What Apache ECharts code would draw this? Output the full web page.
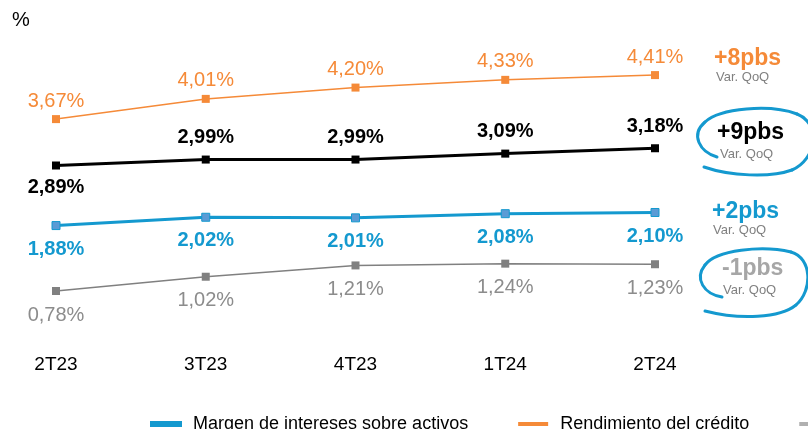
<!DOCTYPE html>
<html>
<head>
<meta charset="utf-8">
<script src="https://cdn.jsdelivr.net/npm/echarts@6/dist/echarts.min.js"></script>
<style>
  html, body { margin: 0; padding: 0; background: #fff; }
  #chart { width: 808px; height: 429px; }
</style>
</head>
<body>
<div id="chart"></div>
<script>
// trimestres
var quarters = ['2T23', '3T23', '4T23', '1T24', '2T24'];

// valores en %
var rendimiento = [3.67, 4.01, 4.20, 4.33, 4.41];
var margenClientes = [2.89, 2.99, 2.99, 3.09, 3.18];
var margenActivos = [1.88, 2.02, 2.01, 2.08, 2.10];
var costeDepositos = [0.78, 1.02, 1.21, 1.24, 1.23];

// variaciones trimestrales
var varQoQ = ['+8pbs', '+9pbs', '+2pbs', '-1pbs'];

var FONT = 'Liberation Sans, Arial, sans-serif';
var ORANGE = '#f58a38';
var BLUE = '#1499cf';
var GRAY = '#808080';

function fmt(v) {
  return v.toFixed(2).replace('.', ',') + '%';
}

function labelCfg(color, bold, pos, dist) {
  return {
    show: true,
    position: pos,
    distance: dist,
    fontFamily: FONT,
    fontSize: 20,
    fontWeight: bold ? 'bold' : 'normal',
    color: color,
    formatter: function (p) { return fmt(p.value); }
  };
}

var blackData = margenClientes.map(function (v, i) {
  if (i === 0) return { value: v, label: { position: 'bottom' } };
  return v;
});

// trazos a mano alzada: [x1,y1, cp1x,cp1y, cp2x,cp2y, x2,y2]
var loop1 = [
  [717, 157, 700, 152, 690, 135, 705, 122],
  [705, 122, 720, 108, 770, 104, 797, 114],
  [797, 114, 822, 124, 816, 160, 792, 170],
  [792, 170, 770, 178, 730, 176, 704, 167]
];
var loop2 = [
  [722, 297, 704, 294, 694, 279, 705, 265],
  [705, 265, 716, 250, 762, 245, 791, 252],
  [791, 252, 812, 258, 813, 290, 796, 305],
  [796, 305, 780, 318, 740, 320, 705, 311]
];

function curves(segs) {
  return segs.map(function (s) {
    return {
      type: 'bezierCurve',
      shape: { x1: s[0], y1: s[1], cpx1: s[2], cpy1: s[3], cpx2: s[4], cpy2: s[5], x2: s[6], y2: s[7] },
      style: { fill: null, stroke: BLUE, lineWidth: 3, lineCap: 'round' }
    };
  });
}

var dom = document.getElementById('chart');
var myChart = echarts.init(dom);

var option = {
  animation: false,
  grid: { left: 56, right: 153, top: 40, bottom: 91.6 },
  xAxis: {
    type: 'category',
    boundaryGap: false,
    data: quarters,
    axisLine: { show: false },
    axisTick: { show: false },
    axisLabel: { margin: 18, fontFamily: FONT, fontSize: 19, color: '#000' }
  },
  yAxis: {
    type: 'value',
    min: 0,
    max: 5,
    show: false,
    splitLine: { show: false }
  },
  legend: {
    left: 145,
    top: 410,
    width: 1200,
    icon: 'rect',
    itemWidth: 30,
    itemHeight: 4,
    itemGap: 50,
    textStyle: { fontFamily: FONT, fontSize: 18, color: '#000', padding: [0, 0, 0, 7] },
    data: [
      { name: 'Margen de intereses sobre activos', itemStyle: { color: BLUE } },
      { name: 'Rendimiento del crédito', itemStyle: { color: ORANGE } },
      { name: 'Coste de los depósitos', itemStyle: { color: '#b0b0b0' } }
    ]
  },
  series: [
    {
      name: 'Rendimiento del crédito',
      type: 'line',
      data: rendimiento,
      symbol: 'rect',
      symbolSize: 8,
      lineStyle: { color: ORANGE, width: 1.5 },
      itemStyle: { color: ORANGE },
      label: labelCfg(ORANGE, false, 'top', 4)
    },
    {
      name: 'Margen de clientes',
      type: 'line',
      data: blackData,
      symbol: 'rect',
      symbolSize: 8,
      lineStyle: { color: '#000', width: 3 },
      itemStyle: { color: '#000' },
      label: labelCfg('#000', true, 'top', 8)
    },
    {
      name: 'Margen de intereses sobre activos',
      type: 'line',
      data: margenActivos,
      symbol: 'rect',
      symbolSize: 8,
      lineStyle: { color: BLUE, width: 3 },
      itemStyle: { color: '#5b9bd5', borderColor: BLUE, borderWidth: 1 },
      label: labelCfg(BLUE, true, 'bottom', 9)
    },
    {
      name: 'Coste de los depósitos',
      type: 'line',
      data: costeDepositos,
      symbol: 'rect',
      symbolSize: 8,
      lineStyle: { color: GRAY, width: 1.5 },
      itemStyle: { color: GRAY },
      label: labelCfg('#8c8c8c', false, 'bottom', 10)
    }
  ],
  graphic: [
    { type: 'text', x: 12, y: 10, style: { text: '%', font: '20px ' + FONT, fill: '#000' } },

    { type: 'text', x: 714, y: 47, style: { text: varQoQ[0], font: 'bold 23px ' + FONT, fill: ORANGE } },
    { type: 'text', x: 716, y: 71, style: { text: 'Var. QoQ', font: '13px ' + FONT, fill: '#808080' } },

    { type: 'text', x: 717, y: 121, style: { text: varQoQ[1], font: 'bold 23px ' + FONT, fill: '#000' } },
    { type: 'text', x: 720, y: 148, style: { text: 'Var. QoQ', font: '13px ' + FONT, fill: '#808080' } },

    { type: 'text', x: 712, y: 200, style: { text: varQoQ[2], font: 'bold 23px ' + FONT, fill: BLUE } },
    { type: 'text', x: 713, y: 224, style: { text: 'Var. QoQ', font: '13px ' + FONT, fill: '#808080' } },

    { type: 'text', x: 722, y: 257, style: { text: varQoQ[3], font: 'bold 23px ' + FONT, fill: '#a6a6a6' } },
    { type: 'text', x: 723, y: 284, style: { text: 'Var. QoQ', font: '13px ' + FONT, fill: '#808080' } }
  ].concat(curves(loop1), curves(loop2))
};

myChart.setOption(option);
</script>
</body>
</html>
